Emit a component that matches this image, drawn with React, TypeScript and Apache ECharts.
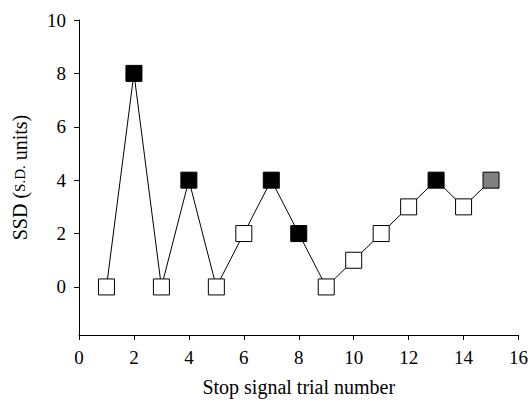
import React, { useEffect, useRef } from "react";
import * as echarts from "echarts";

const trials = [1, 2, 3, 4, 5, 6, 7, 8, 9, 10, 11, 12, 13, 14, 15];
const ssd = [0, 8, 0, 4, 0, 2, 4, 2, 0, 1, 2, 3, 4, 3, 4];
// outcome: "go" (open), "stop" (filled black), "last" (grey)
const outcome = ["go", "stop", "go", "stop", "go", "go", "stop", "stop", "go", "go", "go", "go", "stop", "go", "last"];
const yTicks = [0, 2, 4, 6, 8, 10];

const fillFor: Record<string, string> = { go: "#ffffff", stop: "#000000", last: "#808080" };

export default function App() {
  const ref = useRef<HTMLDivElement>(null);
  useEffect(() => {
    if (!ref.current) return;
    const chart = echarts.init(ref.current, undefined, { renderer: "svg" });
    const font = "'Liberation Serif', 'Times New Roman', serif";
    chart.setOption({
      animation: false,
      grid: { left: 79, right: 12, top: 20, bottom: 64 },
      xAxis: {
        type: "value",
        min: 0,
        max: 16,
        interval: 2,
        name: "Stop signal trial number",
        nameLocation: "middle",
        nameGap: 42,
        nameTextStyle: { fontFamily: font, fontSize: 20, color: "#000" },
        axisLine: { onZero: false, lineStyle: { color: "#000", width: 1 } },
        axisTick: { show: true, length: 5, lineStyle: { color: "#000" } },
        axisLabel: { fontFamily: font, fontSize: 19, color: "#000", margin: 13 },
        splitLine: { show: false },
      },
      yAxis: {
        type: "value",
        min: -1.8,
        max: 10,
        name: "{a|SSD (}{b|S.D.}{a| units)}",
        nameLocation: "middle",
        nameGap: 49,
        nameRotate: 90,
        nameTextStyle: {
          fontFamily: font,
          color: "#000",
          rich: {
            a: { fontFamily: font, fontSize: 20, color: "#000" },
            b: { fontFamily: font, fontSize: 15, color: "#000" },
          },
        },
        axisLine: { show: true, lineStyle: { color: "#000", width: 1 } },
        axisTick: { show: true, length: 5, lineStyle: { color: "#000" }, customValues: yTicks },
        axisLabel: { fontFamily: font, fontSize: 19, color: "#000", margin: 13, customValues: yTicks },
        splitLine: { show: false },
      },
      series: [
        {
          type: "line",
          data: trials.map((t, i) => ({
            value: [t, ssd[i]],
            itemStyle: { color: fillFor[outcome[i]], borderColor: "#000", borderWidth: 1 },
          })),
          symbol: "rect",
          symbolSize: 16,
          showAllSymbol: true,
          lineStyle: { color: "#000", width: 1 },
          itemStyle: { opacity: 1 },
          z: 3,
        },
      ],
    });
    return () => chart.dispose();
  }, []);
  return <div ref={ref} style={{ width: 531, height: 402, position: "absolute", left: 0, top: 0 }} />;
}
